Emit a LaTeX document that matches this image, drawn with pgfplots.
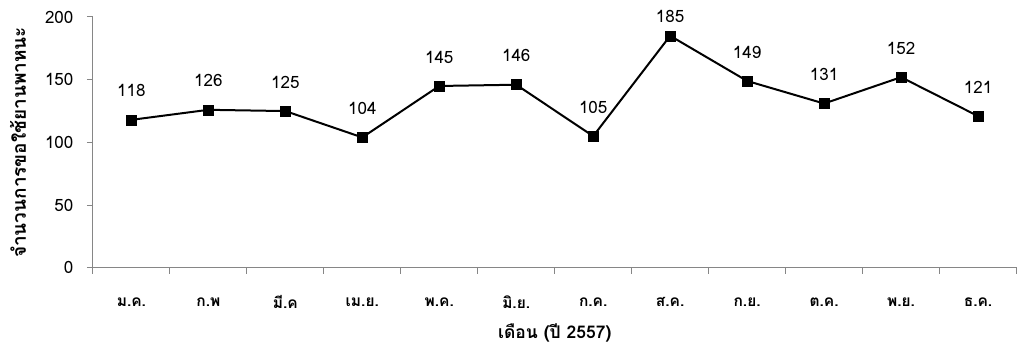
\documentclass[border=0pt]{standalone}
\usepackage{pgfplots}
\pgfplotsset{compat=1.18}
\usepackage{pgfplotstable}
\usepackage{fontspec}
\setmainfont[Script=Thai]{Loma}
\definecolor{axgray}{HTML}{868686}

\pgfplotstableread{
x y off
0 118 29
1 126 29
2 125 29
3 104 29
4 145 29
5 146 29
6 105 29
7 185 19
8 149 29
9 131 29
10 152 29
11 121 29
}\datatable

\begin{document}
\begin{tikzpicture}
\begin{axis}[
  scale only axis, width=924pt, height=251pt,
  xmin=-0.5, xmax=11.5, ymin=0, ymax=200,
  clip=false,
  axis lines=left,
  axis line style={axgray, line width=1pt, -},
  /pgf/number format/assume math mode=true,
  xtick={0,...,11},
  xticklabels={ม.ค.,ก.พ,มี.ค,เม.ย.,พ.ค.,มิ.ย.,ก.ค.,ส.ค.,ก.ย.,ต.ค.,พ.ย.,ธ.ค.},
  major x tick style={draw=none},
  minor xtick={-0.5,0.5,...,11.5},
  minor tick length=6pt,
  major tick length=6pt,
  ytick={0,50,...,200},
  tick align=outside,
  tick style={axgray, line width=1pt},
  xticklabel style={font=\bfseries\fontsize{15.5}{15.5}\selectfont, anchor=center, yshift=-28pt},
  yticklabel style={font=\fontsize{17}{17}\selectfont, anchor=east, xshift=-10pt},
  ylabel={จำนวนการขอใช้ยานพาหนะ},
  ylabel style={at={(axis description cs:-0.0812,0.5)}, anchor=center, font=\bfseries\fontsize{19}{19}\selectfont},
  xlabel={เดือน (ปี 2557)},
  xlabel style={at={(axis description cs:0.5,-0.258)}, anchor=center, font=\bfseries\fontsize{17.5}{17.5}\selectfont},
]
\addplot[black, line width=2pt, mark=square*, mark size=5pt,
  mark options={solid, fill=black, draw=black, line width=0.5pt},
  nodes near coords,
  visualization depends on={\thisrow{off} \as \myoff},
  every node near coord/.append style={anchor=center, yshift=\myoff pt, font=\fontsize{17}{17}\selectfont, black}
] table[x=x, y=y] {\datatable};
\path (axis description cs:-0.1006,-0.3108) rectangle (axis description cs:1,1.0677);
\end{axis}
\end{tikzpicture}
\end{document}
